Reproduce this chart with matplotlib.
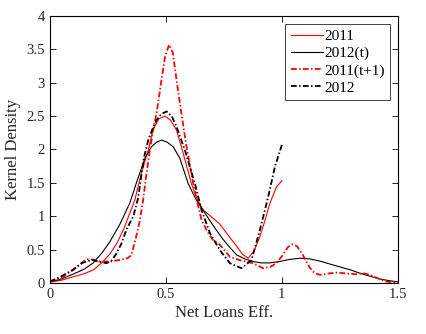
import numpy as np
import matplotlib as mpl
mpl.use('Agg')
import matplotlib.pyplot as plt

plt.rcParams['font.family'] = ['Liberation Serif', 'DejaVu Serif']

# Kernel density estimates of net loans efficiency
x_2011 = [0.0, 0.05, 0.1, 0.15, 0.19, 0.23, 0.26, 0.29, 0.32, 0.345, 0.366,
          0.395, 0.424, 0.445, 0.47, 0.496, 0.52, 0.546, 0.575, 0.61, 0.635,
          0.661, 0.7, 0.733, 0.776, 0.805, 0.83, 0.855, 0.88, 0.905, 0.93,
          0.948, 0.977, 1.0]
y_2011 = [0.01, 0.04, 0.09, 0.14, 0.2, 0.32, 0.44, 0.6, 0.82, 1.05, 1.24,
          1.65, 1.99, 2.3, 2.46, 2.5, 2.44, 2.29, 1.94, 1.49, 1.25,
          1.09, 0.98, 0.88, 0.68, 0.55, 0.43, 0.37, 0.48, 0.69, 0.97,
          1.19, 1.44, 1.53]

x_2012t = [0.0, 0.043, 0.1, 0.15, 0.187, 0.225, 0.259, 0.302, 0.345, 0.375,
           0.41, 0.438, 0.46, 0.481, 0.505, 0.532, 0.56, 0.596, 0.63, 0.661,
           0.69, 0.718, 0.745, 0.776, 0.805, 0.84, 0.876, 0.91, 0.948, 0.99,
           1.03, 1.078, 1.12, 1.16, 1.2, 1.25, 1.3, 1.336, 1.38, 1.42, 1.46,
           1.5]
y_2012t = [0.02, 0.05, 0.13, 0.21, 0.3, 0.45, 0.62, 0.88, 1.2, 1.52,
           1.87, 2.04, 2.11, 2.14, 2.11, 2.04, 1.87, 1.49, 1.25, 1.09,
           0.93, 0.79, 0.66, 0.53, 0.42, 0.36, 0.32, 0.3, 0.3, 0.32,
           0.35, 0.37, 0.36, 0.33, 0.29, 0.24, 0.19, 0.145, 0.1, 0.06, 0.035,
           0.015]

x_2011t1 = [0.0, 0.05, 0.1, 0.13, 0.158, 0.185, 0.216, 0.26, 0.302, 0.335,
            0.352, 0.365, 0.376, 0.388, 0.402, 0.415, 0.431, 0.445, 0.46,
            0.481, 0.497, 0.514, 0.53, 0.546, 0.567, 0.589, 0.618, 0.636,
            0.654, 0.68, 0.704, 0.733, 0.755, 0.776, 0.819, 0.876, 0.919,
            0.95, 0.977, 1.0, 1.027, 1.046, 1.065, 1.09, 1.12, 1.14, 1.164,
            1.2, 1.236, 1.28, 1.32, 1.35, 1.38, 1.42, 1.45, 1.5]
y_2011t1 = [0.02, 0.08, 0.19, 0.28, 0.355, 0.35, 0.32, 0.32, 0.345, 0.37,
            0.42, 0.6, 0.75, 0.94, 1.24, 1.6, 1.99, 2.29, 2.54,
            3.04, 3.4, 3.57, 3.45, 3.04, 2.54, 2.04, 1.49, 1.2,
            0.94, 0.76, 0.64, 0.57, 0.48, 0.39, 0.34, 0.295, 0.22,
            0.24, 0.295, 0.4, 0.54, 0.58, 0.55, 0.42, 0.23, 0.15, 0.12,
            0.14, 0.155, 0.14, 0.13, 0.145, 0.12, 0.06, 0.02, 0.0]

x_2012 = [0.0, 0.05, 0.1, 0.14, 0.18, 0.21, 0.244, 0.265, 0.287, 0.31, 0.33,
          0.36, 0.381, 0.405, 0.424, 0.445, 0.46, 0.48, 0.503, 0.525, 0.546,
          0.582, 0.625, 0.654, 0.69, 0.733, 0.776, 0.826, 0.869, 0.905,
          0.941, 0.97, 1.0]
y_2012 = [0.02, 0.1, 0.2, 0.3, 0.345, 0.32, 0.295, 0.33, 0.44, 0.6, 0.8,
          1.0, 1.28, 1.87, 2.14, 2.33, 2.44, 2.53, 2.57, 2.5, 2.34,
          1.99, 1.49, 1.09, 0.745, 0.49, 0.295, 0.22, 0.34, 0.79,
          1.29, 1.74, 2.07]

fig = plt.figure(figsize=(4.26, 3.34), dpi=100)
ax = fig.add_axes([0.117, 0.153, 0.817, 0.799])

dashdot = [3.2, 1.3, 0.8, 1.3]
ax.plot(x_2011, y_2011, color='red', lw=0.8, label='2011')
ax.plot(x_2012t, y_2012t, color='black', lw=0.8, label='2012(t)')
ax.plot(x_2011t1, y_2011t1, color='red', lw=1.3, dashes=dashdot,
        label='2011(t+1)')
ax.plot(x_2012, y_2012, color='black', lw=1.3, dashes=dashdot,
        label='2012')

ax.set_xlim(0, 1.5)
ax.set_ylim(0, 4)
ax.set_xticks([0, 0.5, 1, 1.5])
ax.set_xticklabels(['0', '0.5', '1', '1.5'])
ax.set_yticks(np.arange(0, 4.01, 0.5))
ax.set_yticklabels(['0', '0.5', '1', '1.5', '2', '2.5', '3', '3.5', '4'])
ax.tick_params(direction='in', top=True, right=True, length=4, width=0.6,
               labelsize=10.5, labelcolor='#262626')
for s in ax.spines.values():
    s.set_linewidth(0.8)

ax.set_xlabel('Net Loans Eff.', fontsize=12, color='#262626', labelpad=3)
ax.set_ylabel('Kernel Density', fontsize=12, color='#262626', labelpad=4)

leg = ax.legend(loc='upper right', bbox_to_anchor=(0.978, 0.97), fontsize=11,
                fancybox=False, edgecolor='#262626', framealpha=1,
                handlelength=2.1, handletextpad=0.1, borderpad=0.35,
                labelspacing=0.22, borderaxespad=0)
leg.get_frame().set_linewidth(0.6)

fig.savefig('out.png', dpi=100)
